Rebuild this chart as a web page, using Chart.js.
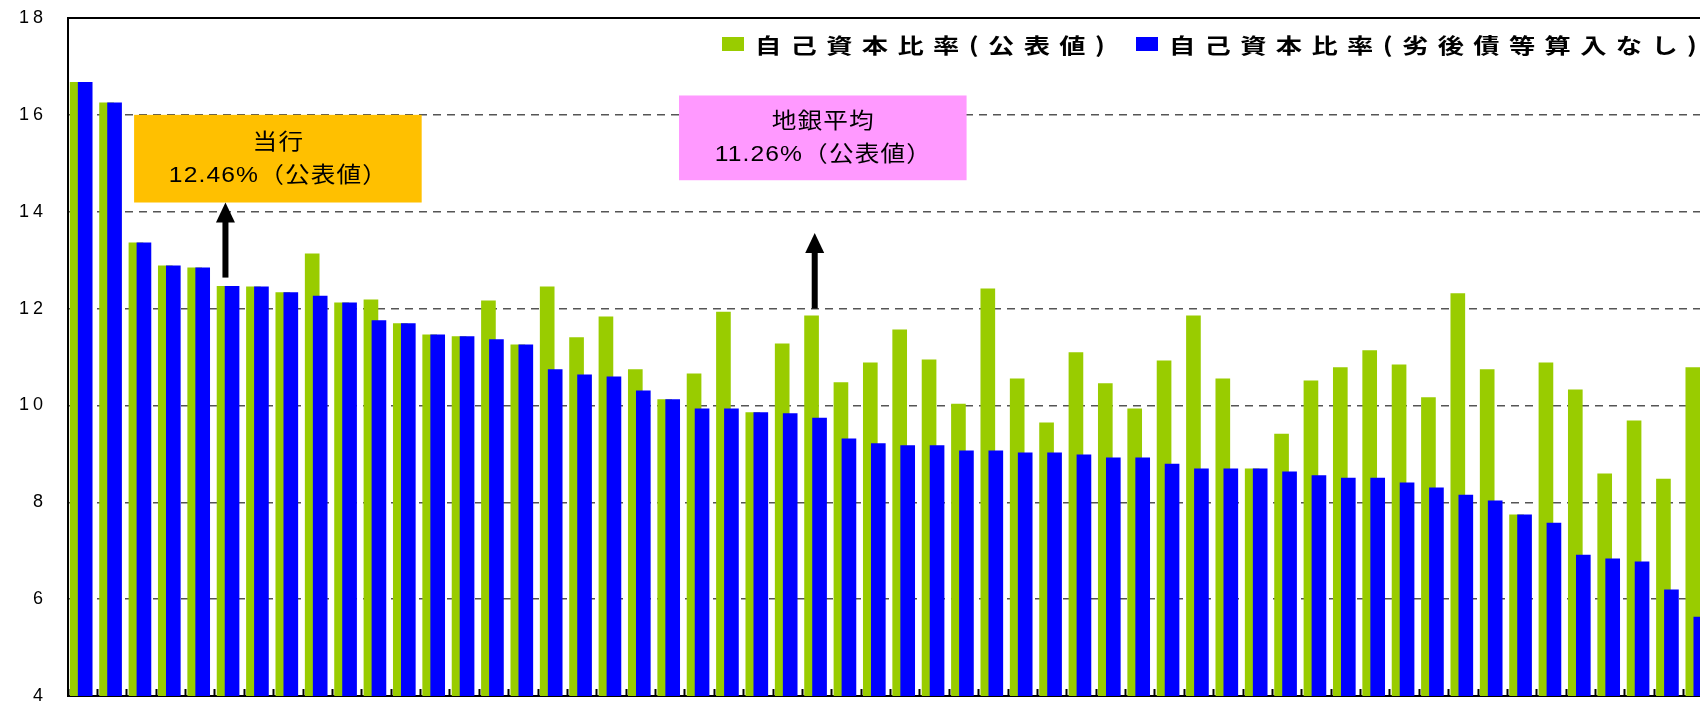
<!DOCTYPE html>
<html lang="ja">
<head>
<meta charset="utf-8">
<title>自己資本比率</title>
<script src="https://cdn.jsdelivr.net/npm/chart.js@4.4.1/dist/chart.umd.min.js"></script>
<style>
  html, body { margin:0; padding:0; background:#fff; overflow:hidden; }
  #wrap { position:relative; width:1713px; height:707px; }
</style>
</head>
<body>
<div id="wrap"><canvas id="capChart" width="1713" height="707"></canvas></div>
<script>
/* ---------- data ---------- */
// banks ranked by ratio (names not shown on the chart)
const banks = ['1','2','3','4','5','6','7','8','9','10','11','12','13','14','15','16','17','18','19','20',
  '21','22','23','24','25','26','27','28','29','30','31','32','33','34','35','36','37','38','39','40',
  '41','42','43','44','45','46','47','48','49','50','51','52','53','54','55','56'];

// 自己資本比率(公表値)
const ratioPublished = [16.67,16.25,13.36,12.88,12.84,12.46,12.45,12.33,13.13,12.12,
  12.18,11.69,11.46,11.42,12.16,11.25,12.45,11.40,11.83,10.74,
  10.12,10.65,11.93,9.85,11.27,11.85,10.47,10.88,11.56,10.94,
  10.03,12.41,10.55,9.64,11.09,10.45,9.93,10.92,11.85,10.55,
  8.69,9.41,10.51,10.78,11.13,10.84,10.16,12.31,10.74,7.74,
  10.88,10.32,8.59,9.68,8.48,10.78];

// 自己資本比率(劣後債等算入なし)
const ratioNoSub = [16.67,16.25,13.36,12.88,12.84,12.46,12.45,12.33,12.26,12.12,
  11.75,11.69,11.46,11.42,11.36,11.25,10.74,10.63,10.59,10.30,
  10.12,9.93,9.93,9.85,9.83,9.74,9.31,9.21,9.17,9.17,
  9.06,9.06,9.02,9.02,8.98,8.92,8.92,8.79,8.69,8.69,
  8.69,8.63,8.55,8.50,8.50,8.40,8.30,8.15,8.03,7.74,
  7.57,6.91,6.83,6.77,6.19,5.63];

const seriesNames = ['自己資本比率(公表値)', '自己資本比率(劣後債等算入なし)'];
const yMin = 4, yMax = 18, yStep = 2;

// call-out boxes, placed in axis units (category index / ratio)
const notes = [
  { lines: ['当行', '12.46%（公表値）'], color: '#FFC000', x0: 1.75, x1: 11.54, y0: 14.19, y1: 16.0 },
  { lines: ['地銀平均', '11.26%（公表値）'], color: '#FF99FF', x0: 20.30, x1: 30.09, y0: 14.65, y1: 16.4 }
];
const arrows = [
  { at: 4.86, from: 12.64, to: 14.19 },
  { at: 24.92, from: 12.0, to: 13.56 }
];

/* ---------- layout helpers ---------- */
// the two series sit on hidden copies of the x axis, nudged apart so the
// blue bar overlaps the right part of the green one
const barShift = { xg: -5.5, xb: 2.5 };
const legendSpots = [ { x: 722, tx: 755 }, { x: 1136, tx: 1169 } ];

// text in the original is drawn horizontally stretched
function wideText(ctx, str, x, y, sx){
  ctx.save();
  ctx.translate(x, y);
  ctx.scale(sx, 1);
  ctx.fillText(str, 0, 0);
  ctx.restore();
}

const overlay = {
  id: 'overlay',
  afterLayout(chart){
    Object.keys(barShift).forEach(id => {
      const s = chart.scales[id];
      s.left += barShift[id]; s.right += barShift[id];
      s.configure();
    });
  },
  beforeDraw(chart){ chart.ctx.letterSpacing = '4px'; },   // wide tick digits
  afterDatasetsDraw(chart){
    const { ctx, chartArea: a, scales: { x, y } } = chart;
    ctx.save();
    ctx.strokeStyle = '#000'; ctx.lineWidth = 2;
    ctx.beginPath(); ctx.moveTo(a.left, a.top); ctx.lineTo(a.right, a.top); ctx.stroke();

    notes.forEach(n => {
      const l = x.getPixelForValue(n.x0), r = x.getPixelForValue(n.x1);
      const t = y.getPixelForValue(n.y1), b = y.getPixelForValue(n.y0);
      ctx.fillStyle = n.color;
      ctx.fillRect(l, t, r - l, b - t);
      ctx.fillStyle = '#000';
      ctx.font = '22px "Liberation Sans", "Noto Sans CJK JP", sans-serif';
      ctx.letterSpacing = '1px';
      ctx.textAlign = 'center'; ctx.textBaseline = 'middle';
      const cx = (l + r) / 2 + 0.5, cy = (t + b) / 2;
      wideText(ctx, n.lines[0], cx, cy - 16, 1.12);
      wideText(ctx, n.lines[1], cx, cy + 17, 1.12);
    });

    arrows.forEach(ar => {
      const px = x.getPixelForValue(ar.at);
      const yb = y.getPixelForValue(ar.from), yt = y.getPixelForValue(ar.to);
      ctx.fillStyle = '#000';
      ctx.fillRect(px - 3, yt + 18, 6, yb - yt - 18);
      ctx.beginPath();
      ctx.moveTo(px, yt); ctx.lineTo(px - 9.5, yt + 20); ctx.lineTo(px + 9.5, yt + 20);
      ctx.closePath(); ctx.fill();
    });

    chart.data.datasets.forEach((ds, i) => {
      const s = legendSpots[i];
      ctx.fillStyle = ds.backgroundColor;
      ctx.fillRect(s.x, 37, 22, 14);
      ctx.fillStyle = '#000';
      ctx.font = 'bold 21px "Noto Sans CJK JP", sans-serif';
      ctx.letterSpacing = '7.5px';
      ctx.textAlign = 'left'; ctx.textBaseline = 'middle';
      wideText(ctx, ds.label, s.tx, 45, 1.25);
    });
    ctx.restore();
  },
  afterDraw(chart){ chart.ctx.letterSpacing = '0px'; }
};

/* ---------- chart ---------- */
const hiddenX = { display: false, offset: true, grid: { display: false } };

new Chart(document.getElementById('capChart'), {
  type: 'bar',
  data: {
    labels: banks,
    datasets: [
      { label: seriesNames[0], data: ratioPublished, backgroundColor: '#99CC00', xAxisID: 'xg', order: 1,
        grouped: false, barThickness: 14, borderWidth: 0 },
      { label: seriesNames[1], data: ratioNoSub, backgroundColor: '#0000FF', xAxisID: 'xb', order: 0,
        grouped: false, barThickness: 14, borderWidth: 0 }
    ]
  },
  options: {
    responsive: false,
    animation: false,
    layout: { padding: { top: 18, right: 0, bottom: 0, left: 0 } },
    plugins: { legend: { display: false }, tooltip: { enabled: false } },
    scales: {
      x: {
        offset: true,
        ticks: { display: false },
        grid: { display: true, offset: true, drawOnChartArea: false, drawTicks: true, tickLength: -7, tickWidth: 2, tickColor: '#000' },
        border: { display: true, color: '#000', width: 2 },
        afterFit: s => { s.height = 11; }
      },
      xg: hiddenX,
      xb: hiddenX,
      y: {
        min: yMin, max: yMax,
        ticks: { stepSize: yStep, color: '#000', padding: 0, font: { family: '"Liberation Sans", Arial, sans-serif', size: 18 } },
        grid: {
          drawTicks: true, tickLength: 21, tickColor: 'rgba(0,0,0,0)', lineWidth: 1.5,
          color: c => (c.tick && (c.tick.value === yMin || c.tick.value === yMax)) ? 'rgba(0,0,0,0)' : '#555'
        },
        border: { display: true, color: '#000', width: 2, dash: [8, 6] },
        afterFit: s => { s.width = 68; }
      }
    }
  },
  plugins: [overlay]
});
</script>
</body>
</html>
